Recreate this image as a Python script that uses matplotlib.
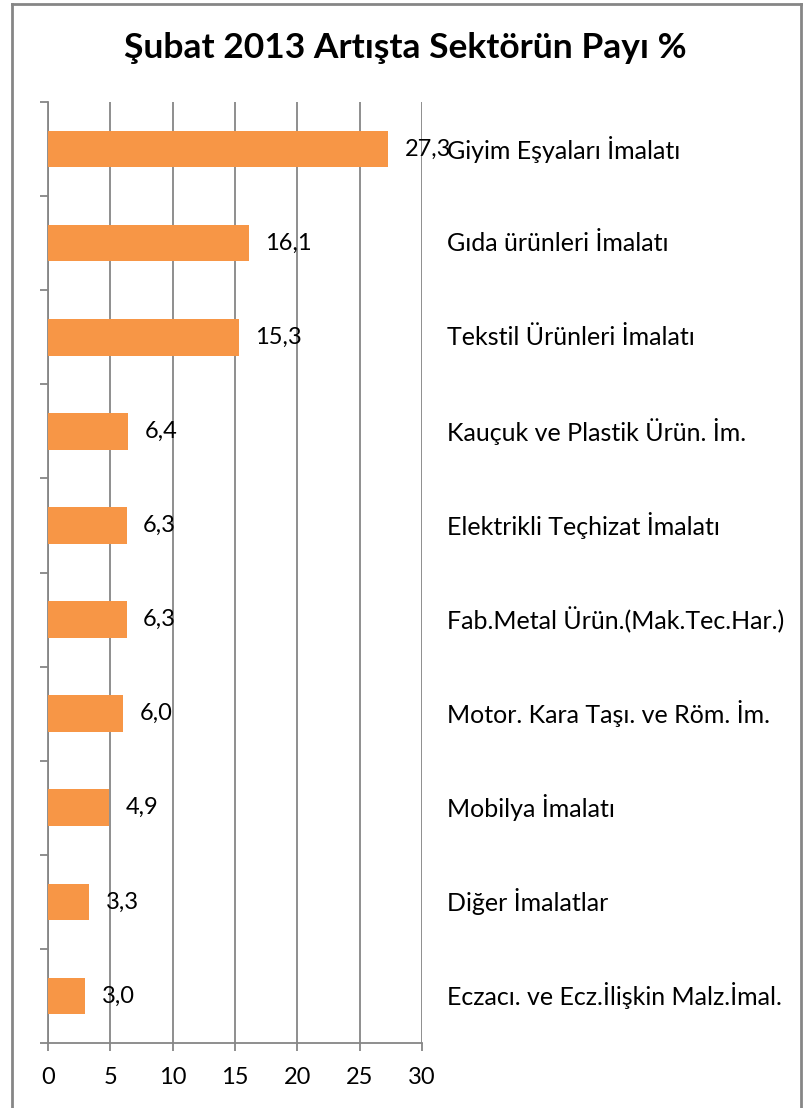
import matplotlib
matplotlib.use('Agg')
import matplotlib.pyplot as plt
from matplotlib.lines import Line2D

plt.rcParams['font.family'] = ['Lato', 'DejaVu Sans']

categories = ['Giyim Eşyaları İmalatı', 'Gıda ürünleri İmalatı', 'Tekstil Ürünleri İmalatı',
              'Kauçuk ve Plastik Ürün. İm.', 'Elektrikli Teçhizat İmalatı',
              'Fab.Metal Ürün.(Mak.Tec.Har.)', 'Motor. Kara Taşı. ve Röm. İm.',
              'Mobilya İmalatı', 'Diğer İmalatlar', 'Eczacı. ve Ecz.İlişkin Malz.İmal.']
values = [27.3, 16.1, 15.3, 6.4, 6.3, 6.3, 6.0, 4.9, 3.3, 3.0]
xticks = [0, 5, 10, 15, 20, 25, 30]

W, H = 811, 1108
fig = plt.figure(figsize=(W / 100, H / 100), dpi=100)
ax = fig.add_axes([48 / W, 1 - 1043 / H, 374 / W, (1043 - 102) / H])

grid = '#868686'
pos = list(range(len(categories)))
ax.barh(pos, values, height=0.39, color='#F79646', zorder=3)
ax.set_xlim(0, 30)
ax.set_ylim(len(categories) - 0.5, -0.5)
ax.set_xticks(xticks)
ax.set_xticklabels([str(t) for t in xticks])
ax.set_yticks([p - 0.5 for p in pos] + [len(pos) - 0.5])
ax.set_yticklabels([])
ax.xaxis.grid(True, color=grid, linewidth=1.3, zorder=0)
for s in ['top', 'right']:
    ax.spines[s].set_visible(False)
for s in ['left', 'bottom']:
    ax.spines[s].set_color(grid)
    ax.spines[s].set_linewidth(1.3)
ax.tick_params(axis='both', color=grid, width=1.3, length=5.5, labelsize=17, pad=12)

for p, v in zip(pos, values):
    ax.annotate(f'{v:.1f}'.replace('.', ','), (v, p), xytext=(12, 0),
                textcoords='offset points', va='center', ha='left', fontsize=17)
    ax.text(1.067, p, categories[p], transform=ax.get_yaxis_transform(),
            va='center', ha='left', fontsize=18)

fig.text(405 / W, 1 - 48 / H, 'Şubat 2013 Artışta Sektörün Payı %', ha='center', va='center',
         fontsize=25.5, fontweight='bold')

bx0, bx1, by0 = 12 / W, 801 / W, 1 - 4 / H
for xs, ys in [([bx0, bx0], [0, by0]), ([bx0, bx1], [by0, by0]), ([bx1, bx1], [by0, 0])]:
    fig.add_artist(Line2D(xs, ys, transform=fig.transFigure, color=grid, linewidth=2))

fig.savefig('out.png', dpi=100)
